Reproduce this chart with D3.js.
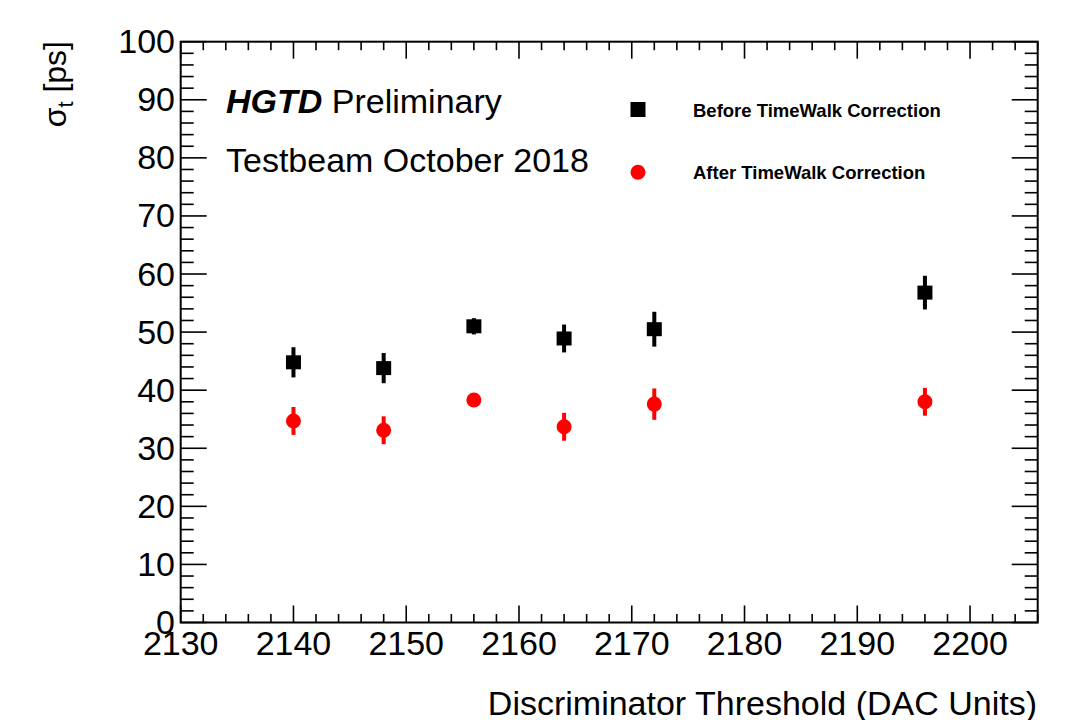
<!DOCTYPE html>
<html>
<head>
<meta charset="utf-8">
<script src="https://cdn.jsdelivr.net/npm/d3@7"></script>
<style>
  body { margin: 0; background: #fff; }
  text { font-family: "Liberation Sans", Arial, Helvetica, sans-serif; }
</style>
</head>
<body>
<div id="chart"></div>
<script>
// threshold scan values
var thresholds = [2140, 2148, 2156, 2164, 2172, 2196];
var sigmaBefore = [44.8, 43.8, 51.0, 48.9, 50.5, 56.8];
var errBefore = [2.6, 2.6, 1.4, 2.4, 3.0, 2.9];
var sigmaAfter = [34.7, 33.1, 38.3, 33.7, 37.6, 38.0];
var errAfter = [2.4, 2.4, 0.6, 2.4, 2.7, 2.4];

var xTicks = [2130, 2140, 2150, 2160, 2170, 2180, 2190, 2200];
var yTicks = [0, 10, 20, 30, 40, 50, 60, 70, 80, 90, 100];
var legendLabels = ['Before TimeWalk Correction', 'After TimeWalk Correction'];

var width = 1083, height = 720;
var padL = 180.7, padR = 1037.7, padT = 41.7, padB = 622.5;
var fs = 34;

var svg = d3.select('#chart').append('svg')
  .attr('width', width)
  .attr('height', height);

var x = d3.scaleLinear().domain([2130, 2206]).range([padL, padR]);
var y = d3.scaleLinear().domain([0, 100]).range([padB, padT]);

var minorX = d3.range(2130, 2206.01, 2);
var minorY = d3.range(0, 100.01, 2);

// ticks: bottom and top
var tickG = svg.append('g').attr('stroke', '#000').attr('stroke-width', 1.6);
minorX.forEach(function(v) {
  var major = (v % 10 === 0);
  var len = major ? 17 : 8.5;
  tickG.append('line').attr('x1', x(v)).attr('x2', x(v)).attr('y1', padB).attr('y2', padB - len);
  tickG.append('line').attr('x1', x(v)).attr('x2', x(v)).attr('y1', padT).attr('y2', padT + len);
});
// left and right
minorY.forEach(function(v) {
  var major = (v % 10 === 0);
  var len = major ? 26 : 13;
  tickG.append('line').attr('x1', padL).attr('x2', padL + len).attr('y1', y(v)).attr('y2', y(v));
  tickG.append('line').attr('x1', padR).attr('x2', padR - len).attr('y1', y(v)).attr('y2', y(v));
});

// frame
svg.append('rect')
  .attr('x', padL).attr('y', padT)
  .attr('width', padR - padL).attr('height', padB - padT)
  .attr('fill', 'none').attr('stroke', '#000').attr('stroke-width', 2);

// tick labels
svg.selectAll('.xlab').data(xTicks).enter().append('text')
  .attr('class', 'xlab')
  .attr('x', function(d) { return x(d); })
  .attr('y', 655)
  .attr('text-anchor', 'middle')
  .attr('font-size', fs)
  .text(function(d) { return d; });

svg.selectAll('.ylab').data(yTicks).enter().append('text')
  .attr('class', 'ylab')
  .attr('x', 175)
  .attr('y', function(d) { return y(d) + 11.5; })
  .attr('text-anchor', 'end')
  .attr('font-size', fs)
  .text(function(d) { return d; });

// axis titles
svg.append('text')
  .attr('x', 1037)
  .attr('y', 715)
  .attr('text-anchor', 'end')
  .attr('font-size', fs)
  .text('Discriminator Threshold (DAC Units)');

var yt = svg.append('text')
  .attr('transform', 'translate(66,41) rotate(-90)')
  .attr('text-anchor', 'end')
  .attr('font-size', 32);
yt.append('tspan').text('\u03c3');
yt.append('tspan').attr('font-size', 22).attr('dy', 7).text('t');
yt.append('tspan').attr('dy', -7).text(' [ps]');

// error bars + markers
function series(vals, errs, color, shape) {
  var g = svg.append('g');
  g.selectAll('line').data(thresholds).enter().append('line')
    .attr('x1', function(d) { return x(d); })
    .attr('x2', function(d) { return x(d); })
    .attr('y1', function(d, i) { return y(vals[i] - errs[i]); })
    .attr('y2', function(d, i) { return y(vals[i] + errs[i]); })
    .attr('stroke', color)
    .attr('stroke-width', 4);
  if (shape === 'square') {
    g.selectAll('rect').data(thresholds).enter().append('rect')
      .attr('x', function(d) { return x(d) - 7.5; })
      .attr('y', function(d, i) { return y(vals[i]) - 7; })
      .attr('width', 15).attr('height', 14)
      .attr('fill', color);
  } else {
    g.selectAll('circle').data(thresholds).enter().append('circle')
      .attr('cx', function(d) { return x(d); })
      .attr('cy', function(d, i) { return y(vals[i]); })
      .attr('r', 7.5)
      .attr('fill', color);
  }
}
series(sigmaBefore, errBefore, '#000', 'square');
series(sigmaAfter, errAfter, '#ff0000', 'circle');

// labels
var hg = svg.append('text').attr('x', 226).attr('y', 113).attr('font-size', fs);
hg.append('tspan').attr('font-weight', 'bold').attr('font-style', 'italic').text('HGTD');
hg.append('tspan').text(' Preliminary');
svg.append('text').attr('x', 226).attr('y', 172).attr('font-size', fs).text('Testbeam October 2018');

// legend
svg.append('rect').attr('x', 630.5).attr('y', 102).attr('width', 15).attr('height', 15).attr('fill', '#000');
svg.append('circle').attr('cx', 638).attr('cy', 172.3).attr('r', 7.5).attr('fill', '#ff0000');
svg.selectAll('.leg').data(legendLabels).enter().append('text')
  .attr('class', 'leg')
  .attr('x', 693)
  .attr('y', function(d, i) { return i === 0 ? 116.5 : 179; })
  .attr('font-size', 18.5)
  .attr('font-weight', 'bold')
  .text(function(d) { return d; });
</script>
</body>
</html>
